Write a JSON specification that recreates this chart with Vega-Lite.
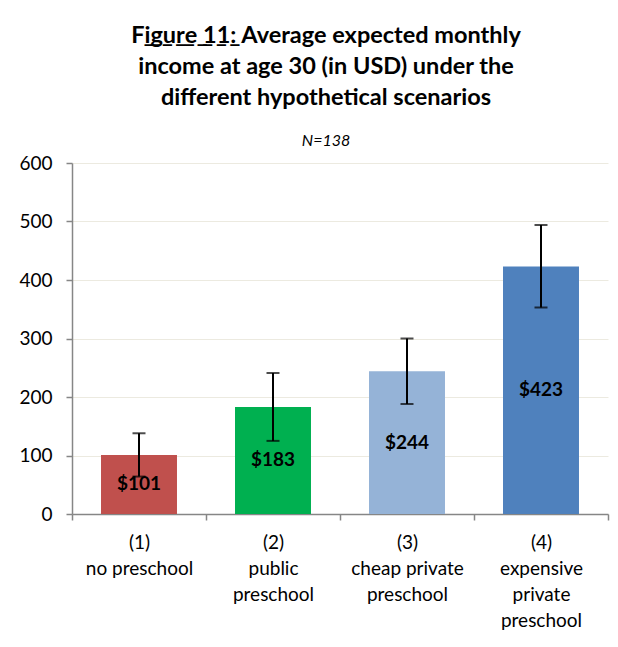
{
  "$schema": "https://vega.github.io/schema/vega-lite/v6.json",
  "width": 536,
  "height": 351,
  "autosize": "none",
  "padding": {"left": 72, "top": 163, "right": 10, "bottom": 133},
  "background": "white",
  "title": {
    "text": ["F̲i̲g̲u̲r̲e̲ ̲1̲1̲: Average expected monthly", "income at age 30  (in USD) under the", "different hypothetical scenarios"],
    "subtitle": "N=138",
    "font": "Lato",
    "fontSize": 23.5,
    "fontWeight": "bold",
    "lineHeight": 31,
    "color": "#000000",
    "subtitleFont": "Lato",
    "subtitleFontStyle": "italic",
    "subtitleFontSize": 16,
    "subtitleColor": "#000000",
    "subtitlePadding": 24,
    "anchor": "middle",
    "frame": "group",
    "dx": -14,
    "offset": 5
  },
  "data": {
    "values": [
      {"scenario": "(1)|no preschool", "value": 101, "lo": 64, "hi": 138, "label": "$101"},
      {"scenario": "(2)|public|preschool", "value": 183, "lo": 125, "hi": 241, "label": "$183"},
      {"scenario": "(3)|cheap private|preschool", "value": 244, "lo": 188, "hi": 300, "label": "$244"},
      {"scenario": "(4)|expensive|private|preschool", "value": 423, "lo": 353, "hi": 494, "label": "$423"}
    ]
  },
  "transform": [{"calculate": "datum.value / 2", "as": "mid"}],
  "encoding": {
    "x": {
      "field": "scenario",
      "type": "nominal",
      "sort": null,
      "scale": {"paddingInner": 0, "paddingOuter": 0},
      "axis": {
        "title": null,
        "labelAngle": 0,
        "labelExpr": "datum.value ? split(datum.value, '|') : ''",
        "labelFont": "Lato",
        "labelFontSize": 19,
        "labelLineHeight": 26,
        "labelColor": "#000000",
        "labelPadding": 13,
        "tickBand": "extent",
        "tickSize": 6,
        "tickColor": "#868686",
        "domainColor": "#868686",
        "domainWidth": 1.5,
        "tickWidth": 1.5
      }
    }
  },
  "layer": [
    {
      "mark": {"type": "bar", "width": {"band": 0.567}},
      "encoding": {
        "y": {
          "field": "value",
          "type": "quantitative",
          "scale": {"domain": [0, 600]},
          "axis": {
            "title": null,
            "values": [0, 100, 200, 300, 400, 500, 600],
            "labelFont": "Lato",
            "labelFontSize": 19,
            "labelColor": "#000000",
            "labelPadding": 14,
            "tickSize": 6,
            "tickColor": "#868686",
            "tickWidth": 1.5,
            "domainColor": "#868686",
            "domainWidth": 1.5,
            "grid": true,
            "gridColor": "#ECEAE0",
            "gridWidth": 1
          }
        },
        "color": {
          "field": "scenario",
          "type": "nominal",
          "sort": null,
          "scale": {"range": ["#C0504D", "#00B050", "#95B3D7", "#4F81BD"]},
          "legend": null
        }
      }
    },
    {
      "mark": {"type": "rule", "color": "#000000", "strokeWidth": 2},
      "encoding": {
        "y": {"field": "lo", "type": "quantitative"},
        "y2": {"field": "hi"}
      }
    },
    {
      "mark": {"type": "tick", "color": "#000000", "thickness": 2, "size": 13},
      "encoding": {"y": {"field": "hi", "type": "quantitative"}}
    },
    {
      "mark": {"type": "tick", "color": "#000000", "thickness": 2, "size": 13},
      "encoding": {"y": {"field": "lo", "type": "quantitative"}}
    },
    {
      "mark": {"type": "text", "font": "Lato", "fontSize": 19, "fontWeight": "bold", "color": "#000000", "baseline": "middle"},
      "encoding": {
        "y": {"field": "mid", "type": "quantitative"},
        "text": {"field": "label"}
      }
    }
  ],
  "config": {"view": {"stroke": null}}
}
